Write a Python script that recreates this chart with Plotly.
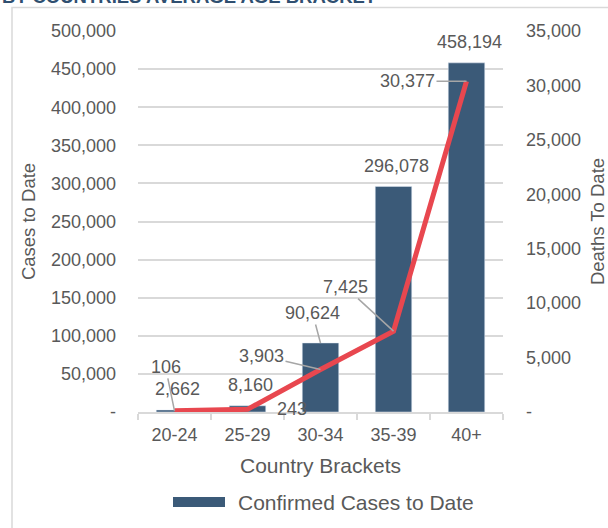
import plotly.graph_objects as go

# ---- data ----
categories = ["20-24", "25-29", "30-34", "35-39", "40+"]
cases = [2662, 8160, 90624, 296078, 458194]
deaths = [106, 243, 3903, 7425, 30377]
left_tickvals = [0, 50000, 100000, 150000, 200000, 250000, 300000, 350000, 400000, 450000, 500000]
left_ticktext = ["-", "50,000", "100,000", "150,000", "200,000", "250,000", "300,000",
                 "350,000", "400,000", "450,000", "500,000"]
right_tickvals = [0, 5000, 10000, 15000, 20000, 25000, 30000, 35000]
right_ticktext = ["-", "5,000", "10,000", "15,000", "20,000", "25,000", "30,000", "35,000"]
title_text = "BY COUNTRIES AVERAGE AGE BRACKET"
bar_name = "Confirmed Cases to Date"

# ---- styling ----
W, H = 608, 528
# plot area in page pixels: x 138..503, y 31..412
ML, MT = 138, 31
MR, MB = W - 503, H - 412
PW, PH = W - ML - MR, H - MT - MB
FONT = "Liberation Sans, Arial, sans-serif"
TXT = "#595959"
GRID = "#d9d9d9"
BAR = "#3b5a78"
RED = "#e8474f"
LEAD = "#a6a6a6"


def px_x(p):
    return (p - ML) / PW


def px_y(p):
    return (H - MB - p) / PH


fig = go.Figure()
fig.add_trace(go.Bar(x=categories, y=cases, name=bar_name, marker_color=BAR,
                     width=0.5, showlegend=False, yaxis="y"))
fig.add_trace(go.Scatter(x=categories, y=deaths, mode="lines", name="Deaths to Date",
                         line=dict(color=RED, width=5), showlegend=False, yaxis="y2"))

annots = []
lf = dict(family=FONT, size=18, color=TXT)

bar_label_style = [
    dict(showarrow=False, xshift=3, yshift=21),
    dict(showarrow=False, xshift=3, yshift=21),
    dict(showarrow=True, ax=-8, ay=-30),
    dict(showarrow=False, xshift=3, yshift=20),
    dict(showarrow=False, xshift=3, yshift=21),
]
for c, v, st in zip(categories, cases, bar_label_style):
    a = dict(x=c, y=v, xref="x", yref="y", text=f"{v:,}", font=lf,
             arrowhead=0, arrowcolor=LEAD, arrowwidth=1.5, standoff=0)
    a.update(st)
    annots.append(a)

death_label_style = [
    dict(showarrow=True, ax=-9, ay=-44),
    dict(showarrow=False, xshift=44, yshift=0),
    dict(showarrow=True, ax=-59, ay=-14),
    dict(showarrow=True, ax=-48, ay=-44),
    dict(showarrow=True, ax=-59, ay=0),
]
for c, v, st in zip(categories, deaths, death_label_style):
    a = dict(x=c, y=v, xref="x", yref="y2", text=f"{v:,}", font=lf,
             arrowhead=0, arrowcolor=LEAD, arrowwidth=1.5, standoff=0)
    a.update(st)
    annots.append(a)

# cropped title at the very top
annots.append(dict(x=px_x(0), y=px_y(9), xref="paper", yref="paper", xanchor="left",
                   yanchor="bottom", showarrow=False, text="<b>" + title_text + "</b>",
                   font=dict(family=FONT, size=18.5, color="#2f4f70")))
# legend text
annots.append(dict(x=px_x(236), y=px_y(502), xref="paper", yref="paper", xanchor="left",
                   yanchor="middle", showarrow=False, text=bar_name,
                   font=dict(family=FONT, size=21, color=TXT)))

shapes = [
    dict(type="rect", xref="paper", yref="paper", x0=px_x(12), x1=px_x(640),
         y0=px_y(560), y1=px_y(7.5), line=dict(color=GRID, width=1.5), layer="below"),
    dict(type="rect", xref="paper", yref="paper", x0=px_x(173), x1=px_x(225),
         y0=px_y(507), y1=px_y(497), fillcolor=BAR, line=dict(width=0)),
]

fig.update_layout(
    width=W, height=H,
    margin=dict(l=ML, r=MR, t=MT, b=MB, pad=0, autoexpand=False),
    paper_bgcolor="white", plot_bgcolor="white",
    font=dict(family=FONT, size=18, color=TXT),
    showlegend=False,
    bargap=0.5,
    annotations=annots,
    shapes=shapes,
    xaxis=dict(type="category", range=[-0.5, 4.5], tickson="boundaries", ticks="outside",
               ticklen=6, tickcolor=GRID, tickwidth=1.5, showline=True, linecolor=GRID,
               linewidth=1.5, showgrid=False, tickfont=dict(size=18, color=TXT),
               ticklabelstandoff=6, automargin=False,
               title=dict(text="Country Brackets", font=dict(size=21, color=TXT), standoff=14)),
    yaxis=dict(range=[0, 500000], tickvals=left_tickvals, ticktext=left_ticktext,
               showgrid=True, gridcolor=GRID, gridwidth=1.5, zeroline=False, showline=False,
               ticks="", ticklabelstandoff=21, tickfont=dict(size=18, color=TXT),
               automargin=False,
               title=dict(text="Cases to Date", font=dict(size=18.5, color=TXT), standoff=10)),
    yaxis2=dict(range=[0, 35000], tickvals=right_tickvals, ticktext=right_ticktext,
                overlaying="y", side="right", showgrid=False, zeroline=False, showline=False,
                ticks="", ticklabelstandoff=22, tickfont=dict(size=18, color=TXT),
                automargin=False,
                title=dict(text="Deaths To Date", font=dict(size=18.5, color=TXT), standoff=10)),
)

fig.write_html("out.html", config={"displayModeBar": False},
               post_script="document.body.style.margin='0';")
